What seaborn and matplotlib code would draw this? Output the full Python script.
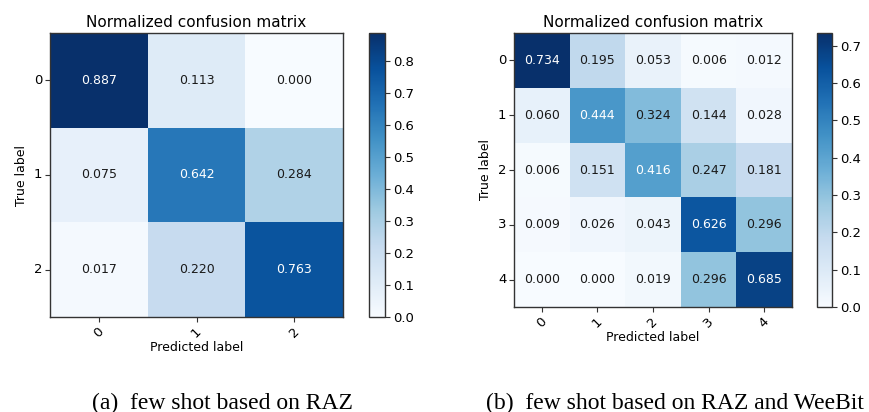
import numpy as np
import pandas as pd
import matplotlib
matplotlib.use("Agg")
import matplotlib.pyplot as plt
import seaborn as sns

# ---- data ----
labels_a = ["0", "1", "2"]
cm_a = [
    [0.887, 0.113, 0.000],
    [0.075, 0.642, 0.284],
    [0.017, 0.220, 0.763],
]
labels_b = ["0", "1", "2", "3", "4"]
cm_b = [
    [0.734, 0.195, 0.053, 0.006, 0.012],
    [0.060, 0.444, 0.324, 0.144, 0.028],
    [0.006, 0.151, 0.416, 0.247, 0.181],
    [0.009, 0.026, 0.043, 0.626, 0.296],
    [0.000, 0.000, 0.019, 0.296, 0.685],
]
title = "Normalized confusion matrix"
caption_a = "(a)  few shot based on RAZ"
caption_b = "(b)  few shot based on RAZ and WeeBit"

W, H = 869, 412
fig = plt.figure(figsize=(W / 100, H / 100), dpi=100)


def frac(x0, y0, x1, y1):
    return [x0 / W, 1 - y1 / H, (x1 - x0) / W, (y1 - y0) / H]


def draw(cm, labels, ax_box, cb_box):
    ax = fig.add_axes(frac(*ax_box))
    cax = fig.add_axes(frac(*cb_box))
    df = pd.DataFrame(cm, index=labels, columns=labels)
    arr = np.array(cm)
    vmax = arr.max()
    sns.heatmap(df, ax=ax, cbar_ax=cax, cmap="Blues", vmin=0, vmax=vmax,
                annot=True, fmt=".3f", annot_kws={"fontsize": 9})
    thresh = vmax / 2.0
    flat = arr.flatten()
    for t, v in zip(ax.texts, flat):
        t.set_color("white" if v > thresh else "#1a1a1a")
    for s in ax.spines.values():
        s.set_visible(True)
        s.set_color("#333333")
        s.set_linewidth(1.0)
    ax.set_title(title, fontsize=11, pad=4)
    ax.set_xlabel("Predicted label", fontsize=9, labelpad=1)
    ax.set_ylabel("True label", fontsize=9)
    ax.tick_params(axis="both", length=3.5, width=0.8, labelsize=9.5, pad=2,
                   color="#333333")
    ax.set_xticklabels(labels, rotation=45)
    ax.set_yticklabels(labels, rotation=0)
    cb = ax.collections[0].colorbar
    cb.outline.set_visible(True)
    cb.outline.set_linewidth(1.0)
    cb.outline.set_edgecolor("#333333")
    cb.set_ticks(np.arange(0, vmax + 1e-9, 0.1))
    cax.tick_params(labelsize=9.5, length=3.5, width=0.8, color="#333333", pad=2)
    cax.yaxis.set_major_formatter(matplotlib.ticker.FormatStrFormatter("%.1f"))
    return ax


draw(cm_a, labels_a, (50, 33, 343, 317), (369, 33, 385, 317))
draw(cm_b, labels_b, (514, 33, 792, 307), (817, 33, 832, 307))

fig.text(222 / W, 1 - 403 / H, caption_a, ha="center", va="center",
         fontsize=17, family="Liberation Serif")
fig.text(675 / W, 1 - 403 / H, caption_b, ha="center", va="center",
         fontsize=17, family="Liberation Serif")

fig.savefig("out.png", dpi=100)
